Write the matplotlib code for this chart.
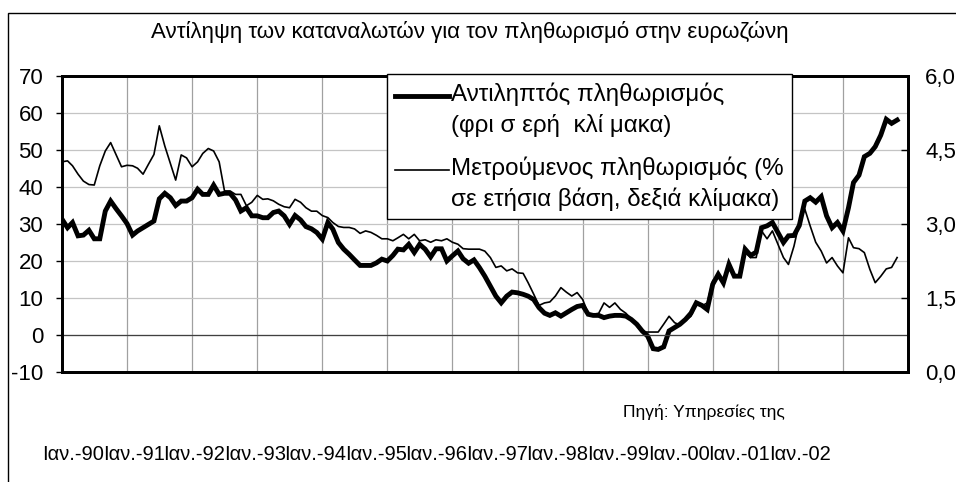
# αντίληψη πληθωρισμού - ευρωζώνη

import matplotlib
matplotlib.use("Agg")
import matplotlib.pyplot as plt
import matplotlib.dates as mdates
from matplotlib.patches import Rectangle
from matplotlib.legend_handler import HandlerLine2D
import numpy as np
import pandas as pd

plt.rcParams["font.family"] = ["Liberation Sans", "DejaVu Sans"]

TITLOS = "Αντίληψη των καταναλωτών για τον πληθωρισμό στην ευρωζώνη"
PIGI = "Πηγή: Υπηρεσίες της"
ETIKETA_1 = "Αντιληπτός πληθωρισμός\n(φρι σ ερή  κλί μακα)"
ETIKETA_2 = "Μετρούμενος πληθωρισμός (%\nσε ετήσια βάση, δεξιά κλίμακα)"
X_ETIKETES = ["Ιαν.-90", "Ιαν.-91", "Ιαν.-92", "Ιαν.-93", "Ιαν.-94", "Ιαν.-95",
              "Ιαν.-96", "Ιαν.-97", "Ιαν.-98", "Ιαν.-99", "Ιαν.-00", "Ιαν.-01",
              "Ιαν.-02"]

# μηνιαία στοιχεία, Ιαν. 1990 - Νοε. 2002
antiliptos = [
    31.3, 29.0, 30.4, 26.8, 27.0, 28.3, 26.0, 26.0, 33.5, 36.2, 34.1, 32.2,
    30.1, 27.0, 28.1, 29.0, 29.9, 30.8, 36.8, 38.3, 37.1, 35.0, 36.2, 36.2,
    37.1, 39.4, 38.0, 38.0, 40.5, 38.0, 38.3, 38.3, 36.5, 33.5, 34.4, 32.2,
    32.2, 31.7, 31.7, 33.1, 33.5, 32.2, 29.9, 32.3, 31.1, 29.3, 28.7, 27.7,
    25.9, 30.4, 28.6, 25.0, 23.2, 21.8, 20.3, 18.8, 18.8, 18.8, 19.5, 20.5,
    20.0, 21.5, 23.2, 23.0, 24.5, 22.3, 24.5, 23.2, 21.1, 23.3, 23.3, 20.0,
    21.4, 22.7, 20.6, 19.4, 20.3, 18.2, 15.9, 13.2, 10.5, 8.7, 10.5, 11.6,
    11.4, 11.0, 10.5, 9.6, 7.4, 5.9, 5.3, 6.0, 5.1, 6.0, 6.9, 7.7,
    8.0, 5.6, 5.3, 5.3, 4.7, 5.1, 5.3, 5.3, 5.1, 4.2, 2.9, 1.1,
    -0.3, -3.7, -3.9, -3.2, 1.1, 2.0, 2.9, 4.2, 5.9, 8.7, 8.0, 6.9,
    13.7, 16.4, 14.1, 19.1, 15.9, 15.9, 23.2, 21.5, 22.4, 29.0, 29.5, 30.4,
    27.7, 25.0, 26.8, 26.9, 29.6, 36.2, 37.1, 35.9, 37.4, 32.2, 29.0, 30.4,
    28.1, 34.4, 41.2, 43.2, 48.2, 49.1, 50.9, 54.0, 58.3, 57.2, 58.1,
]

metroumenos = [
    4.26, 4.28, 4.18, 4.01, 3.87, 3.80, 3.79, 4.18, 4.48, 4.65, 4.40, 4.16,
    4.19, 4.18, 4.13, 4.01, 4.21, 4.41, 4.99, 4.58, 4.23, 3.89, 4.40, 4.34,
    4.16, 4.26, 4.43, 4.53, 4.48, 4.26, 3.67, 3.67, 3.60, 3.60, 3.37, 3.44,
    3.58, 3.50, 3.51, 3.47, 3.40, 3.35, 3.33, 3.50, 3.44, 3.33, 3.26, 3.26,
    3.17, 3.13, 3.03, 2.95, 2.93, 2.93, 2.90, 2.81, 2.86, 2.83, 2.77, 2.70,
    2.70, 2.66, 2.72, 2.79, 2.70, 2.79, 2.66, 2.68, 2.63, 2.68, 2.66, 2.70,
    2.63, 2.59, 2.50, 2.49, 2.49, 2.49, 2.45, 2.32, 2.12, 2.15, 2.05, 2.09,
    2.01, 2.00, 1.81, 1.58, 1.35, 1.40, 1.42, 1.54, 1.71, 1.62, 1.54, 1.61,
    1.47, 1.19, 1.17, 1.19, 1.40, 1.31, 1.40, 1.27, 1.19, 1.07, 0.93, 0.81,
    0.81, 0.81, 0.81, 0.97, 1.13, 1.00, 0.95, 1.04, 1.13, 1.37, 1.34, 1.40,
    1.85, 1.96, 1.88, 2.15, 1.98, 1.94, 2.42, 2.32, 2.32, 2.86, 2.70, 2.86,
    2.59, 2.32, 2.18, 2.55, 3.03, 3.30, 2.96, 2.63, 2.45, 2.21, 2.32, 2.15,
    2.01, 2.72, 2.52, 2.50, 2.42, 2.08, 1.81, 1.94, 2.09, 2.12, 2.32,
]

aristera_ticks = [-10, 0, 10, 20, 30, 40, 50, 60, 70]
dexia_ticks = [0.0, 1.5, 3.0, 4.5, 6.0]


class GrammiPano(HandlerLine2D):
    """Η γραμμή του υπομνήματος στο ύψος της πρώτης σειράς κειμένου."""
    def create_artists(self, legend, orig_handle, xdescent, ydescent,
                       width, height, fontsize, trans):
        arts = super().create_artists(legend, orig_handle, xdescent, ydescent,
                                      width, height, fontsize, trans)
        for a in arts:
            a.set_ydata(np.asarray(a.get_ydata()) + 0.55 * fontsize)
        return arts


minas = pd.date_range("1990-01-01", periods=len(antiliptos), freq="MS")

fig = plt.figure(figsize=(9.56, 4.82), dpi=100)
ax = fig.add_axes([62 / 956, 1 - 372 / 482, 846 / 956, 296 / 482])
ax2 = ax.twinx()

# εξωτερικό πλαίσιο (φαίνεται μόνο αριστερά και πάνω)
fig.patches.append(Rectangle((8 / 956, -0.1), 1.0, 1.1 - 13 / 482,
                             transform=fig.transFigure, fill=False,
                             edgecolor="black", linewidth=1))

l1, = ax.plot(minas, antiliptos, color="black", linewidth=3.5, solid_joinstyle="miter")
l2, = ax2.plot(minas, metroumenos, color="black", linewidth=1.2)

ax.set_xlim(pd.Timestamp("1990-01-01"), pd.Timestamp("2003-01-01"))
ax.set_ylim(-10, 70)
ax2.set_ylim(0, 6)

ax.set_yticks(aristera_ticks)
ax.set_yticklabels([str(t) for t in aristera_ticks])
ax2.set_yticks(dexia_ticks)
ax2.set_yticklabels([f"{t:.1f}".replace(".", ",") for t in dexia_ticks])

ax.xaxis.set_major_locator(mdates.YearLocator())
ax.tick_params(axis="x", length=0, labelbottom=False)
ax.tick_params(axis="y", direction="out", length=4, width=1, pad=9.5, labelsize=16)
ax2.tick_params(axis="y", direction="in", length=5, width=1, pad=12.5, labelsize=16)

ax.grid(axis="x", color="#a0a0a0", linewidth=0.9)
ax.grid(axis="y", color="#c4c4c4", linewidth=0.9)
ax.axhline(0, color="#404040", linewidth=0.9)
ax.set_axisbelow(True)

for a in (ax, ax2):
    for s in a.spines.values():
        s.set_linewidth(2)
        s.set_color("black")

leg = ax2.legend([l1, l2], [ETIKETA_1, ETIKETA_2], loc="upper left",
                 bbox_to_anchor=(387 / 956, 1 - 74 / 482), bbox_transform=fig.transFigure,
                 fontsize=17.4, frameon=True, fancybox=False, framealpha=1,
                 edgecolor="black", handlelength=2.2, handletextpad=0.08,
                 borderpad=0.35, labelspacing=0.8, borderaxespad=0,
                 handler_map={l1: GrammiPano(), l2: GrammiPano()})
leg.get_frame().set_linewidth(1)
for t in leg.get_texts():
    t.set_linespacing(1.43)

fig.text(470 / 956, 1 - 32 / 482, TITLOS, ha="center", va="center", fontsize=16)
fig.text(623 / 956, 1 - 412 / 482, PIGI, ha="left", va="center", fontsize=12.5)

# ετικέτες ημερομηνιών στο κάτω μέρος
platos = 787 / len(X_ETIKETES)
for i, lab in enumerate(X_ETIKETES):
    fig.text((43 + platos * (i + 0.5)) / 956, 1 - 455 / 482, lab, ha="center",
             va="center", fontsize=14.5)

fig.savefig("out.png", dpi=100)
